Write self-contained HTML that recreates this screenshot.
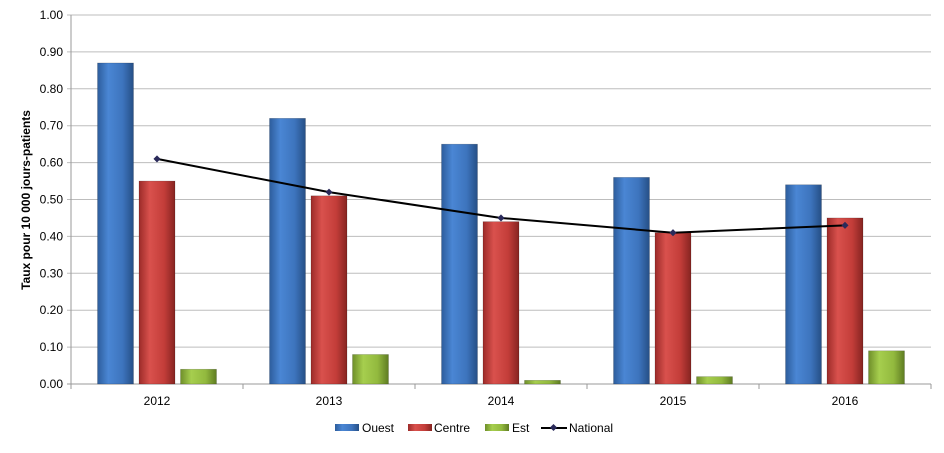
<!DOCTYPE html>
<html><head><meta charset="utf-8"><style>
body{margin:0;background:#fff;width:944px;height:448px;overflow:hidden;font-family:"Liberation Sans",sans-serif}
</style></head><body>
<svg id="chart" width="944" height="448" xmlns="http://www.w3.org/2000/svg">
<defs>
<linearGradient id="gO" x1="0" x2="1"><stop offset="0" stop-color="#2d5d9c"/><stop offset="0.3" stop-color="#4a86d4"/><stop offset="0.7" stop-color="#3d74bd"/><stop offset="1" stop-color="#264f86"/></linearGradient>
<linearGradient id="gC" x1="0" x2="1"><stop offset="0" stop-color="#9c2b29"/><stop offset="0.3" stop-color="#d9514d"/><stop offset="0.7" stop-color="#c33d39"/><stop offset="1" stop-color="#862421"/></linearGradient>
<linearGradient id="gE" x1="0" x2="1"><stop offset="0" stop-color="#6f8f2a"/><stop offset="0.3" stop-color="#a6ce4e"/><stop offset="0.7" stop-color="#92b93e"/><stop offset="1" stop-color="#5f7c22"/></linearGradient>
</defs>
<g id="grid"></g><g id="bars"></g><g id="line"></g><g id="axes"></g>
<text transform="translate(30,200) rotate(-90)" text-anchor="middle" font-size="12" font-weight="bold">Taux pour 10 000 jours-patients</text>
<g font-size="12">
<rect x="335" y="424" width="24" height="7" fill="url(#gO)"/>
<text x="362" y="432">Ouest</text>
<rect x="408" y="424" width="24" height="7" fill="url(#gC)"/>
<text x="434" y="432">Centre</text>
<rect x="485" y="424" width="24" height="7" fill="url(#gE)"/>
<text x="512" y="432">Est</text>
<line x1="541" y1="428" x2="567" y2="428" stroke="#000" stroke-width="2"/>
<rect x="551" y="425" width="5" height="5" fill="#2a2a5a" transform="rotate(45 553.5 427.5)"/>
<text x="569" y="432">National</text>
</g>
</svg>
<script>
const categories=["2012","2013","2014","2015","2016"];
const ouest=[0.87,0.72,0.65,0.56,0.54];
const centre=[0.55,0.51,0.44,0.41,0.45];
const est=[0.04,0.08,0.01,0.02,0.09];
const national=[0.61,0.52,0.45,0.41,0.43];
const yTicks=[0,0.1,0.2,0.3,0.4,0.5,0.6,0.7,0.8,0.9,1.0];
const NS="http://www.w3.org/2000/svg";
const L=71,R=931,T=15,B=384;
const y=v=>B-(v/1.0)*(B-T);
const bw=(R-L)/categories.length;
const cx=i=>L+bw*(i+0.5);
function mk(tag,attrs,parent){const e=document.createElementNS(NS,tag);for(const k in attrs)e.setAttribute(k,attrs[k]);document.getElementById(parent).appendChild(e);return e;}
yTicks.forEach((t,i)=>{
  const g=mk("line",{x1:L-4,x2:R,y1:y(t),y2:y(t),stroke:i===0?"#999":"#bdbdbd","stroke-width":1},"grid");
  
  
  const tx=mk("text",{x:L-8,y:y(t)+4,"text-anchor":"end","font-size":12},"axes");
  tx.textContent=t.toFixed(2);
  
  
});
mk("line",{x1:L,x2:L,y1:T,y2:B,stroke:"#999"},"axes");
for(let i=0;i<=categories.length;i++){mk("line",{x1:L+bw*i,x2:L+bw*i,y1:B,y2:B+5,stroke:"#999"},"axes");}
const series=[[ouest,"url(#gO)","ouest",-1],[centre,"url(#gC)","centre",0],[est,"url(#gE)","est",1]];
categories.forEach((c,i)=>{
  series.forEach(([arr,fill,nm,off])=>{
    const x=cx(i)+off*41.5-18;
    const r=mk("rect",{x:x,y:y(arr[i]),width:36,height:B-y(arr[i]),fill:fill,stroke:"rgba(0,0,0,0.25)","stroke-width":0.6},"bars");
    
    
  });
  const t=mk("text",{x:cx(i),y:405,"text-anchor":"middle","font-size":12},"axes");
  t.textContent=c;
  
  
});
const pts=national.map((v,i)=>cx(i)+","+y(v)).join(" ");
const pl=mk("polyline",{points:pts,fill:"none",stroke:"#000","stroke-width":2},"line");


national.forEach((v,i)=>{
  const m=mk("rect",{x:cx(i)-2.5,y:y(v)-2.5,width:5,height:5,fill:"#2a2a5a",transform:`rotate(45 ${cx(i)} ${y(v)})`},"line");
  
  
});
</script>
</body></html>
